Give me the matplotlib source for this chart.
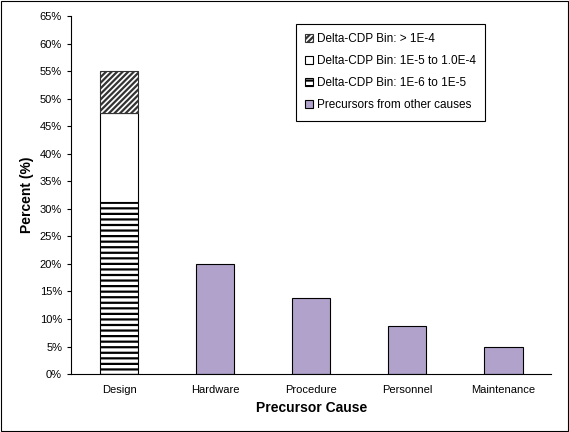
import numpy as np
import matplotlib.pyplot as plt
from matplotlib.patches import Rectangle

plt.rcParams['font.family'] = ['Liberation Sans', 'DejaVu Sans']
plt.rcParams['hatch.linewidth'] = 1.6

causes = ['Design', 'Hardware', 'Procedure', 'Personnel', 'Maintenance']
other = [0, 20.0, 13.8, 8.7, 5.0]
bin_low = [31.3, 0, 0, 0, 0]    # 1E-6 to 1E-5
bin_mid = [16.1, 0, 0, 0, 0]    # 1E-5 to 1.0E-4
bin_high = [7.6, 0, 0, 0, 0]    # > 1E-4

fig = plt.figure(figsize=(5.69, 4.32), dpi=100)
fig.patches.append(Rectangle((0.002, 0.002), 0.996, 0.996, transform=fig.transFigure,
                             fill=False, edgecolor='black', linewidth=0.8))
ax = fig.add_axes([0.125, 0.134, 0.844, 0.829])

x = np.arange(len(causes))
w = 0.4
b1 = ax.bar(x[:1], bin_low[:1], w, color='white', edgecolor='black', hatch='---', linewidth=0.8,
            label='Delta-CDP Bin: 1E-6 to 1E-5')
b2 = ax.bar(x[:1], bin_mid[:1], w, bottom=bin_low[:1], color='white', edgecolor='black', linewidth=0.8,
            label='Delta-CDP Bin: 1E-5 to 1.0E-4')
b3 = ax.bar(x[:1], bin_high[:1], w, bottom=np.add(bin_low, bin_mid)[:1], color='white',
            edgecolor='#333333', hatch='//////', linewidth=0.8, label='Delta-CDP Bin: > 1E-4')
b4 = ax.bar(x[1:], other[1:], w, color='#b1a2cc', edgecolor='black', linewidth=0.8,
            label='Precursors from other causes')

ax.set_xlim(-0.5, 4.5)
ax.set_ylim(0, 65)
ax.set_yticks(np.arange(0, 66, 5))
ax.set_yticklabels([f'{v}%' for v in range(0, 66, 5)], fontsize=8)
ax.set_xticks(x)
ax.set_xticklabels(causes, fontsize=8)
ax.tick_params(axis='x', length=0, pad=8)
ax.tick_params(axis='y', length=3, direction='out')
ax.spines['top'].set_visible(False)
ax.spines['right'].set_visible(False)
ax.set_xlabel('Precursor Cause', fontsize=10, fontweight='bold')
ax.set_ylabel('Percent (%)', fontsize=10, fontweight='bold')

leg = ax.legend([b3, b2, b1, b4], [b3.get_label(), b2.get_label(), b1.get_label(), b4.get_label()],
                loc='upper right', bbox_to_anchor=(0.875, 0.995), fontsize=8.5, fancybox=False,
                edgecolor='black', handlelength=0.7, handleheight=0.7, handletextpad=0.3,
                labelspacing=0.85, borderpad=0.8, framealpha=1)
leg.get_frame().set_linewidth(0.8)

fig.savefig('out.png', dpi=100)
